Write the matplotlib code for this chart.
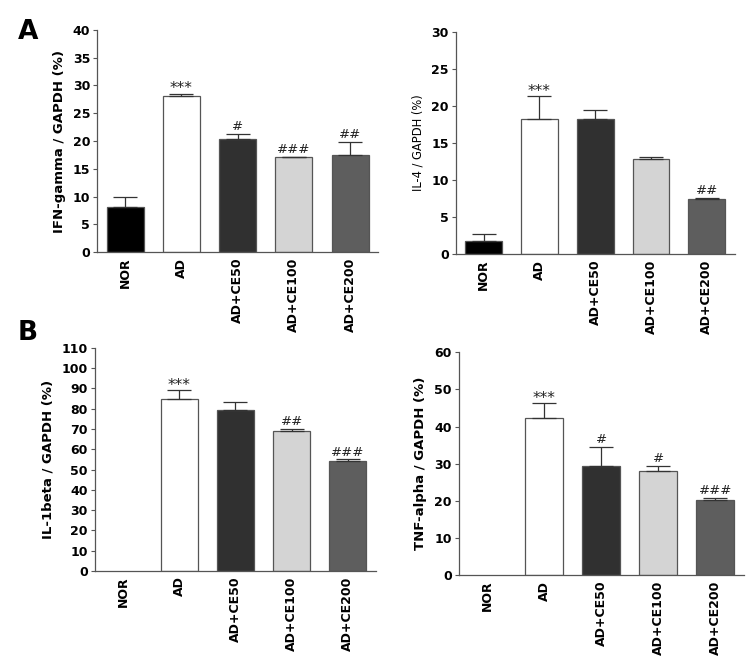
import matplotlib
matplotlib.use("Agg")
import matplotlib.pyplot as plt
import numpy as np

categories = ["NOR", "AD", "AD+CE50", "AD+CE100", "AD+CE200"]
bar_colors = ["#000000", "#ffffff", "#303030", "#d4d4d4", "#5e5e5e"]

ifn_vals = [8.2, 28.1, 20.4, 17.1, 17.5]
ifn_err = [1.7, 0.4, 0.8, 0.1, 2.3]
ifn_marks = ["", "***", "#", "###", "##"]

il4_vals = [1.8, 18.2, 18.3, 12.8, 7.5]
il4_err = [0.9, 3.1, 1.2, 0.3, 0.1]
il4_marks = ["", "***", "", "", "##"]

il1b_vals = [0, 85, 79.5, 69, 54]
il1b_err = [0, 4, 4, 1, 1]
il1b_marks = ["", "***", "", "##", "###"]

tnf_vals = [0, 42.2, 29.3, 28.0, 20.3]
tnf_err = [0, 4.0, 5.1, 1.5, 0.4]
tnf_marks = ["", "***", "#", "#", "###"]

fig = plt.figure(figsize=(7.52, 6.62), dpi=100)

panels = [
    dict(rect=[0.129, 0.619, 0.374, 0.336], vals=ifn_vals, err=ifn_err, marks=ifn_marks,
         ylim=40, step=5, ylabel="IFN-gamma / GAPDH (%)", bold=True, lsize=9.5),
    dict(rect=[0.606, 0.616, 0.371, 0.336], vals=il4_vals, err=il4_err, marks=il4_marks,
         ylim=30, step=5, ylabel="IL-4 / GAPDH (%)", bold=False, lsize=8.3),
    dict(rect=[0.126, 0.1375, 0.374, 0.337], vals=il1b_vals, err=il1b_err, marks=il1b_marks,
         ylim=110, step=10, ylabel="IL-1beta / GAPDH (%)", bold=True, lsize=9.5),
    dict(rect=[0.610, 0.131, 0.379, 0.337], vals=tnf_vals, err=tnf_err, marks=tnf_marks,
         ylim=60, step=10, ylabel="TNF-alpha / GAPDH (%)", bold=True, lsize=9.5),
]

axcol = "#555555"
for p in panels:
    ax = fig.add_axes(p["rect"])
    x = np.arange(len(categories))
    vals = np.array(p["vals"], dtype=float)
    err = np.array(p["err"], dtype=float)
    for xi, v, c in zip(x, vals, bar_colors):
        if v > 0:
            ax.bar(xi, v, width=0.66, color=c, edgecolor="#555555", linewidth=0.9, zorder=2)
    for xi, v, e in zip(x, vals, err):
        if v > 0 and e > 0:
            ax.errorbar(xi, v, yerr=[[0], [e]], fmt="none", ecolor="#333333",
                        elinewidth=0.9, capsize=8.5, capthick=0.9, zorder=3)
    for xi, v, e, m in zip(x, vals, err, p["marks"]):
        if m:
            fs = 11 if m.startswith("*") else 9.5
            off = -0.012 if m.startswith("*") else 0.004
            ax.text(xi, v + e + p["ylim"] * off, m, ha="center", va="bottom",
                    fontsize=fs, color="#222222")
    ax.set_xlim(-0.5, 4.5)
    ax.set_ylim(0, p["ylim"])
    ax.set_yticks(np.arange(0, p["ylim"] + 0.1, p["step"]))
    ax.set_xticks(x)
    ax.set_xticklabels(categories, rotation=90, fontsize=9, fontweight="bold")
    for lab in ax.get_yticklabels():
        lab.set_fontsize(9)
        lab.set_fontweight("bold")
    ax.spines["top"].set_visible(False)
    ax.spines["right"].set_visible(False)
    ax.spines["left"].set_color(axcol)
    ax.spines["bottom"].set_color(axcol)
    ax.spines["left"].set_linewidth(0.9)
    ax.spines["bottom"].set_linewidth(0.9)
    ax.tick_params(axis="y", length=3, width=0.8, color=axcol, pad=2)
    ax.tick_params(axis="x", length=0, pad=4)
    ax.set_ylabel(p["ylabel"], fontsize=p["lsize"],
                  fontweight="bold" if p["bold"] else "normal", labelpad=5)

fig.text(0.024, 0.952, "A", fontsize=19, fontweight="heavy", va="center", ha="left")
fig.text(0.024, 0.497, "B", fontsize=19, fontweight="heavy", va="center", ha="left")

fig.savefig("out.png", dpi=100, facecolor="white")
